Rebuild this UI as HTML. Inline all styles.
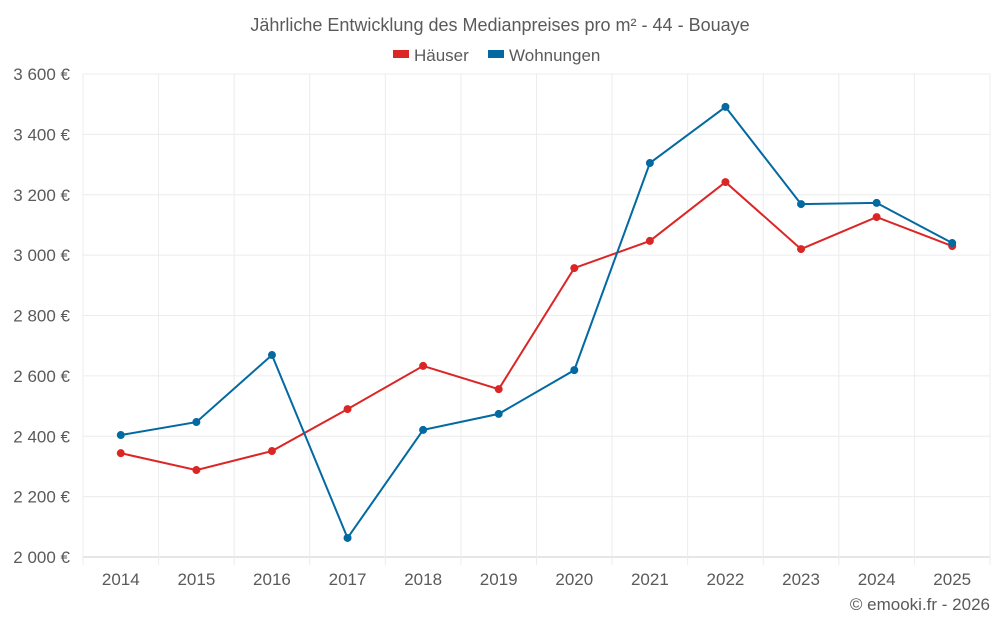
<!DOCTYPE html>
<html><head><meta charset="utf-8"><style>
body{margin:0;background:#fff;font-family:"Liberation Sans",sans-serif}
svg text{font-family:"Liberation Sans",sans-serif;fill:#5a5a5a}
</style></head><body>
<svg id="chart" width="1000" height="625">
<text x="500" y="31" text-anchor="middle" font-size="18">Jährliche Entwicklung des Medianpreises pro m² - 44 - Bouaye</text>
<g>
<g><rect x="393" y="50" width="16" height="8" fill="#dc2626"/><text x="414" y="61" font-size="17">Häuser</text></g>
<g><rect x="488" y="50" width="16" height="8" fill="#0369a1"/><text x="509" y="61" font-size="17">Wohnungen</text></g>
</g>
<g id="grid"></g><g id="axes"></g><g id="series"></g>
<text x="990" y="610" text-anchor="end" font-size="17">© emooki.fr - 2026</text>
</svg>
<script>
const years=["2014","2015","2016","2017","2018","2019","2020","2021","2022","2023","2024","2025"];
const haeuser=[2344,2288,2351,2490,2633,2556,2957,3047,3242,3020,3126,3030];
const wohnungen=[2404,2447,2669,2063,2421,2474,2619,3305,3491,3169,3173,3040];
const yTicks=[2000,2200,2400,2600,2800,3000,3200,3400,3600];
const NS="http://www.w3.org/2000/svg";
const L=83,R=990,T=74,B=557,ymin=2000,ymax=3600;
const step=(R-L)/years.length;
const x=i=>L+step*(i+0.5);
const y=v=>B-(v-ymin)/(ymax-ymin)*(B-T);
function mk(tag,attrs,parent){const e=document.createElementNS(NS,tag);for(const k in attrs)e.setAttribute(k,attrs[k]);document.getElementById(parent).appendChild(e);return e;}
yTicks.forEach(v=>{
 const l=mk('line',{x1:L,x2:R,y1:y(v),y2:y(v),stroke:v===ymin?'#ccc':'#ececec'},'grid');
 
 
 const t=mk('text',{x:70,y:y(v)+6,'text-anchor':'end','font-size':'17'},'axes');
 t.textContent=v.toLocaleString('fr-FR').replace(/\u202f|\u00a0/g,' ')+' €';
 
 
});
for(let i=0;i<=years.length;i++){
 const gx=L+step*i;
 const l=mk('line',{x1:gx,x2:gx,y1:T,y2:B+8,stroke:'#ececec'},'grid');
 
 
}
years.forEach((yr,i)=>{
 const t=mk('text',{x:x(i),y:585,'text-anchor':'middle','font-size':'17'},'axes');
 t.textContent=yr;
 
 
});
function series(data,color,name){
 const p=mk('polyline',{points:data.map((v,i)=>x(i)+','+y(v)).join(' '),fill:'none',stroke:color,'stroke-width':2},'series');
 
 
 data.forEach((v,i)=>{
  const c=mk('circle',{cx:x(i),cy:y(v),r:4,fill:color},'series');
  
  
 });
}
series(haeuser,'#dc2626','haeuser');
series(wohnungen,'#0369a1','wohnungen');
</script>
</body></html>
